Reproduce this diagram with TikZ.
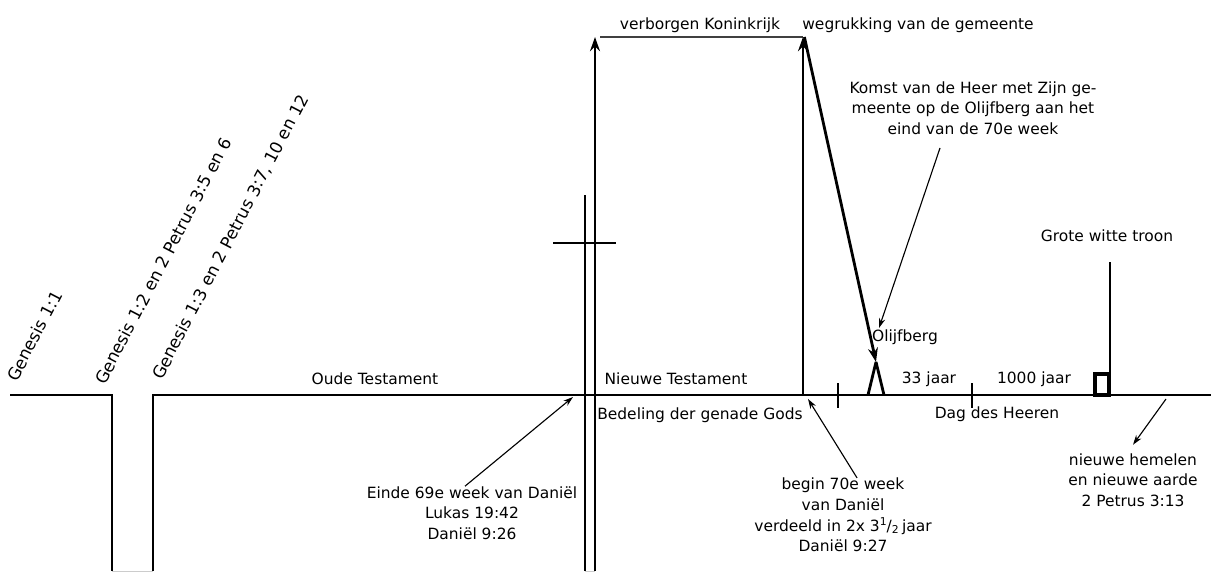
\documentclass[tikz,border=0pt]{standalone}
\usepackage{fontspec}
\setmainfont{DejaVu Sans}
\usetikzlibrary{arrows.meta, positioning}

\begin{document}
\begin{tikzpicture}[x=0.025cm, y=-0.025cm,
    font=\fontsize{11}{14.6}\selectfont,
    txt/.style={inner sep=0pt, align=center},
    gen/.style={inner sep=0pt, rotate=62.5, anchor=base west, font=\fontsize{12}{14}\selectfont},
    line/.style={line width=2pt},
    up/.style={line width=2pt, -{Stealth[length=10pt, width=7pt]}},
    pointer/.style={line width=0.8pt, -{Stealth[length=7pt, width=4.5pt]}}]
  \useasboundingbox (0,0) rectangle (1211,572);

  % teksten
  \node (gen1) [gen] at (17,383) {Genesis 1:1};
  \node (gen2) [gen] at (105,386) {Genesis 1:2 en 2 Petrus 3:5 en 6};
  \node (gen3) [gen] at (162,381) {Genesis 1:3 en 2 Petrus 3:7, 10 en 12};
  \node (ot) [txt] at (375,379) {Oude Testament};
  \node (nt) [txt] at (676,379) {Nieuwe Testament};
  \node (bed) [txt] at (700,415) {Bedeling der genade Gods};
  \node (vk) [txt] at (700,25) {verborgen Koninkrijk};
  \node (weg) [txt] at (918,25) {wegrukking van de gemeente};
  \node (komst) [txt] at (973,108) {Komst van de Heer met Zijn ge-\\meente op de Olijfberg aan het\\eind van de 70e week};
  \node (olijf) [txt] at (905,337) {Olijfberg};
  \node (j33) [txt] at (929,379) {33 jaar};
  \node (j1000) [txt] at (1034,379) {1000 jaar};
  \node (troon) [txt] at (1107,236) {Grote witte troon};
  \node (dag) [txt] at (997,414) {Dag des Heeren};
  \node (einde) [txt] at (472,513) {Einde 69e week van Daniël\\Lukas 19:42\\Daniël 9:26};
  \node (begin) [txt] at (843,515) {begin 70e week\\van Daniël\\verdeeld in 2x 3\textsuperscript{1}\kern-0.5pt/\textsubscript{2}\,jaar\\Daniël 9:27};
  \node (nieuw) [txt] at (1133,480) {nieuwe hemelen\\en nieuwe aarde\\2 Petrus 3:13};

  % tijdlijn
  \coordinate (l0) at (10,395);
  \coordinate (l1) at (112,395);
  \coordinate (l2) at (112,571);
  \coordinate (r2) at (153,571);
  \coordinate (r1) at (153,395);
  \coordinate (r0) at (1211,395);
  \draw [line] (l0) -- (l1) -- (l2);
  \draw [line] (r2) -- (r1) -- (r0);
  \draw [gray!40] (l2) -- (r2);

  % kruis en Nieuwe Testament
  \coordinate (k0) at (585,571);
  \coordinate (k1) at (585,195);
  \coordinate (kl) at (553,243);
  \coordinate (kr) at (616,243);
  \coordinate (v0) at (595,571);
  \coordinate (v1) at (595,37);
  \draw [line] (k0) -- (k1);
  \draw [line] (kl) -- (kr);
  \draw [up] (v0) -- (v1);
  \draw [gray!40] (k0) -- (v0);

  % wegrukking
  \coordinate (vk0) at (600,37);
  \coordinate (w0) at (803,395);
  \coordinate (w1) at (803,37);
  \draw [line width=1pt, black!75] (vk0) -- (w1);
  \draw [up] (w0) -- (w1);

  % Olijfberg
  \coordinate (b0) at (868,395);
  \coordinate (berg) at (876,362);
  \coordinate (b1) at (884,395);
  \draw [line, line join=bevel] (b0) -- (berg) -- (b1);
  \draw [up] ([xshift=1pt]w1) -- (berg);

  % streepjes en troon
  \coordinate (t0) at (838,383);
  \coordinate (t1) at (838,408);
  \coordinate (t2) at (972,383);
  \coordinate (t3) at (972,408);
  \draw [line] (t0) -- (t1);
  \draw [line] (t2) -- (t3);
  \coordinate (tr0) at (1110,262);
  \coordinate (tr1) at (1110,395);
  \draw [line] (tr0) -- (tr1);
  \draw [line width=2.6pt] (1095,374) rectangle (1109,395);

  % verwijzingen
  \coordinate (a69) at (573,397);
  \coordinate (a70) at (808,399);
  \coordinate (ko0) at (940,148);
  \coordinate (ko1) at (879,328);
  \coordinate (nh0) at (1166,399);
  \draw [pointer] ([xshift=-5pt]einde.north) -- (a69);
  \draw [pointer] ([xshift=10pt]begin.north) -- (a70);
  \draw [pointer] (ko0) -- (ko1);
  \draw [pointer] (nh0) -- ([yshift=6pt]nieuw.north);
\end{tikzpicture}
\end{document}
